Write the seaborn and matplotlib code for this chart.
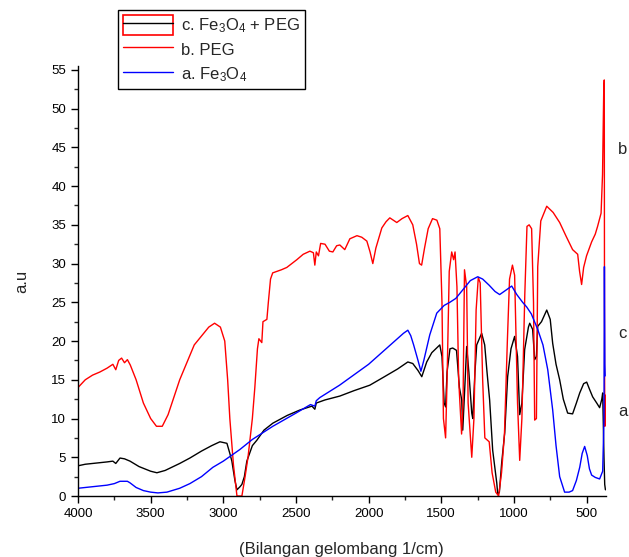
import numpy as np
import pandas as pd
import seaborn as sns
import matplotlib.pyplot as plt
from matplotlib.lines import Line2D
from matplotlib.patches import Rectangle
from matplotlib.ticker import MultipleLocator

# FTIR spectra
wn_peg = [4000, 3950, 3900, 3850, 3800, 3760, 3740, 3720, 3700, 3680, 3660, 3640, 3600, 3550, 3500,
          3460, 3420, 3380, 3300, 3200, 3100, 3060, 3020, 2990, 2970, 2955, 2930, 2906, 2872, 2850,
          2830, 2800, 2783, 2765, 2755, 2735, 2727, 2700, 2690, 2675, 2660, 2600, 2563, 2494, 2450,
          2404, 2380, 2370, 2360, 2345, 2330, 2300, 2270, 2246, 2220, 2198, 2164, 2129, 2080, 2047,
          2012, 1990, 1971, 1950, 1909, 1880, 1854, 1830, 1806, 1770, 1730, 1696, 1670, 1650, 1635,
          1615, 1590, 1560, 1530, 1510, 1495, 1485, 1470, 1460, 1445, 1428, 1415, 1405, 1392, 1380,
          1360, 1350, 1340, 1325, 1315, 1290, 1275, 1260, 1245, 1232, 1215, 1200, 1170, 1150, 1125,
          1105, 1085, 1065, 1045, 1030, 1010, 995, 975, 960, 945, 925, 910, 895, 878, 865,
          857, 845, 836, 815, 774, 730, 685, 640, 596, 561, 548, 534, 520, 500, 465,
          440, 424, 400, 390, 382, 378, 376, 374, 372, 370]
val_peg = [14.0, 15.0, 15.6, 16.0, 16.5, 17.0, 16.3, 17.5, 17.8, 17.2, 17.6, 16.9, 15.0, 12.0, 10.0,
           9.0, 9.0, 10.5, 15.0, 19.5, 21.8, 22.3, 21.8, 20.0, 15.0, 10.0, 4.0, 0.0, 0.0, 2.5,
           5.0, 10.0, 14.0, 19.0, 20.3, 19.8, 22.5, 22.8, 25.0, 28.0, 28.8, 29.2, 29.5, 30.5, 31.2,
           31.6, 31.4, 29.8, 31.5, 31.0, 32.6, 32.5, 31.6, 31.5, 32.3, 32.4, 31.8, 33.2, 33.6, 33.4,
           32.9, 31.5, 30.0, 32.0, 34.6, 35.4, 35.9, 35.6, 35.3, 35.8, 36.2, 35.0, 32.5, 30.0, 29.8,
           32.0, 34.5, 35.8, 35.6, 34.5, 25.0, 10.0, 7.5, 15.0, 29.0, 31.5, 30.5, 31.5, 27.0, 15.0,
           8.0, 12.0, 29.2, 27.0, 12.0, 5.0, 10.0, 24.0, 28.2, 27.5, 15.0, 7.5, 7.0, 3.0, 0.5,
           0.0, 3.0, 8.0, 20.0, 28.0, 29.8, 28.5, 12.0, 4.6, 10.0, 26.0, 34.8, 35.0, 34.5, 25.0,
           9.8, 10.0, 29.6, 35.5, 37.4, 36.6, 35.3, 33.5, 31.8, 31.2, 29.0, 27.3, 29.5, 31.0, 32.8,
           33.8, 34.8, 36.5, 41.5, 52.0, 53.7, 16.5, 9.0, 13.0, 13.0]

wn_fe = [4000, 3900, 3800, 3750, 3711, 3660, 3642, 3600, 3550, 3500, 3450, 3388, 3300, 3230, 3150,
         3072, 3000, 2886, 2800, 2659, 2500, 2400, 2370, 2360, 2336, 2200, 2000, 1850, 1760, 1730,
         1710, 1690, 1660, 1640, 1620, 1579, 1531, 1480, 1441, 1400, 1352, 1300, 1249, 1215, 1170,
         1130, 1098, 1060, 1015, 980, 940, 912, 880, 836, 800, 767, 733, 710, 685, 651,
         620, 596, 570, 547, 530, 513, 495, 480, 465, 440, 410, 389, 380, 377, 374, 372]
val_fe = [1.0, 1.2, 1.4, 1.6, 1.9, 1.9, 1.7, 1.1, 0.7, 0.5, 0.4, 0.5, 1.0, 1.6, 2.5,
          3.7, 4.5, 6.0, 7.3, 9.0, 10.7, 11.8, 11.6, 12.3, 12.7, 14.3, 17.0, 19.5, 21.0, 21.4,
          20.7, 19.5, 17.5, 16.1, 17.5, 20.8, 23.6, 24.6, 25.0, 25.5, 26.6, 27.8, 28.3, 28.0, 27.2,
          26.4, 26.0, 26.5, 27.1, 26.0, 25.0, 24.4, 23.5, 21.5, 19.5, 16.3, 11.1, 6.5, 2.5, 0.5,
          0.5, 0.7, 2.0, 3.7, 5.5, 6.4, 5.2, 3.5, 2.7, 2.4, 2.2, 3.2, 10.0, 29.6, 17.0, 15.5]

wn_mix = [4000, 3950, 3900, 3850, 3800, 3760, 3740, 3711, 3680, 3642, 3580, 3500, 3457, 3400, 3300,
          3230, 3150, 3080, 3023, 2975, 2955, 2941, 2920, 2906, 2885, 2872, 2855, 2838, 2800, 2769,
          2720, 2659, 2560, 2473, 2390, 2370, 2360, 2300, 2198, 2100, 1992, 1900, 1800, 1730, 1696,
          1660, 1634, 1600, 1565, 1510, 1495, 1480, 1470, 1460, 1440, 1421, 1395, 1375, 1359, 1352,
          1338, 1325, 1310, 1290, 1283, 1268, 1256, 1222, 1201, 1185, 1167, 1146, 1118, 1111, 1100,
          1084, 1063, 1043, 1020, 995, 975, 960, 945, 926, 900, 891, 871, 857, 845, 836,
          810, 774, 750, 733, 710, 685, 660, 630, 596, 570, 547, 520, 499, 480, 458,
          430, 410, 395, 389, 380, 375, 370]
val_mix = [3.9, 4.1, 4.2, 4.3, 4.4, 4.5, 4.2, 4.9, 4.8, 4.5, 3.8, 3.2, 3.0, 3.3, 4.2,
           4.9, 5.8, 6.5, 7.0, 6.8, 5.5, 4.5, 2.0, 0.8, 1.2, 1.5, 2.5, 4.5, 6.5, 7.2,
           8.5, 9.4, 10.4, 11.1, 11.6, 11.2, 12.0, 12.4, 12.9, 13.6, 14.3, 15.3, 16.4, 17.3, 17.1,
           16.2, 15.4, 17.3, 18.5, 19.5, 18.0, 12.0, 11.5, 16.0, 19.0, 19.1, 18.8, 14.0, 12.4, 8.5,
           14.0, 19.3, 16.0, 10.7, 10.0, 16.0, 19.5, 21.0, 19.5, 16.0, 12.4, 5.9, 1.7, 0.2, 0.5,
           4.3, 8.2, 15.4, 19.0, 20.6, 18.0, 10.5, 12.0, 18.9, 21.8, 22.3, 21.5, 17.6, 18.0, 21.9,
           22.5, 24.0, 22.8, 19.7, 17.0, 15.0, 12.5, 10.7, 10.6, 12.0, 13.3, 14.5, 14.7, 13.8, 12.8,
           12.0, 11.4, 12.5, 13.3, 5.0, 1.5, 0.8]

sns.set_style('ticks')
plt.rcParams['font.family'] = ['Liberation Sans', 'DejaVu Sans']
plt.rcParams['mathtext.default'] = 'regular'

fig = plt.figure(figsize=(6.29, 5.57), dpi=100)
ax = fig.add_axes([0.124, 0.1095, 0.839, 0.772])

df_mix = pd.DataFrame({'wn': wn_mix, 'val': val_mix})
df_peg = pd.DataFrame({'wn': wn_peg, 'val': val_peg})
df_fe = pd.DataFrame({'wn': wn_fe, 'val': val_fe})

sns.lineplot(data=df_mix, x='wn', y='val', sort=False, color='black', lw=1, ax=ax)
sns.lineplot(data=df_peg, x='wn', y='val', sort=False, color='#ff0000', lw=1, ax=ax)
sns.lineplot(data=df_fe, x='wn', y='val', sort=False, color='#0000ff', lw=1, ax=ax)

ax.set_xlim(4000, 368)
ax.set_ylim(0, 55.5)
ax.xaxis.set_major_locator(MultipleLocator(500))
ax.xaxis.set_minor_locator(MultipleLocator(250))
ax.yaxis.set_major_locator(MultipleLocator(5))
ax.yaxis.set_minor_locator(MultipleLocator(2.5))
ax.tick_params(which='major', direction='out', length=5, width=1, labelsize=9.5, colors='black')
ax.tick_params(which='minor', direction='out', length=3, width=1)
for s in ['top', 'right']:
    ax.spines[s].set_visible(False)
for s in ['left', 'bottom']:
    ax.spines[s].set_linewidth(1)
    ax.spines[s].set_color('black')

ax.set_xlabel('(Bilangan gelombang 1/cm)', fontsize=12, labelpad=16)
ax.set_ylabel('a.u', fontsize=12, labelpad=16)

# right-hand curve labels
fig.text(618 / 629, 1 - 150 / 557, 'b', fontsize=12, va='center')
fig.text(618 / 629, 1 - 333 / 557, 'c', fontsize=12, va='center')
fig.text(618 / 629, 1 - 412 / 557, 'a', fontsize=12, va='center')

h_mix = (Rectangle((0, 0), 1, 1, facecolor='none', edgecolor='red', lw=1.2),
         Line2D([], [], color='black', lw=1))
h_peg = Line2D([], [], color='#ff0000', lw=1)
h_fe = Line2D([], [], color='#0000ff', lw=1)
leg = fig.legend([h_mix, h_peg, h_fe],
                 ['c. Fe$_3$O$_4$ + PEG', 'b. PEG', 'a. Fe$_3$O$_4$'],
                 loc='upper left', bbox_to_anchor=(118 / 629, 1 - 10 / 557), borderaxespad=0,
                 fontsize=12, handlelength=3, handleheight=1.5, labelspacing=0.25,
                 borderpad=0.3, handletextpad=0.5, fancybox=False, framealpha=1)
leg.get_frame().set_edgecolor('black')
leg.get_frame().set_linewidth(1)

fig.savefig('out.png', dpi=100)
